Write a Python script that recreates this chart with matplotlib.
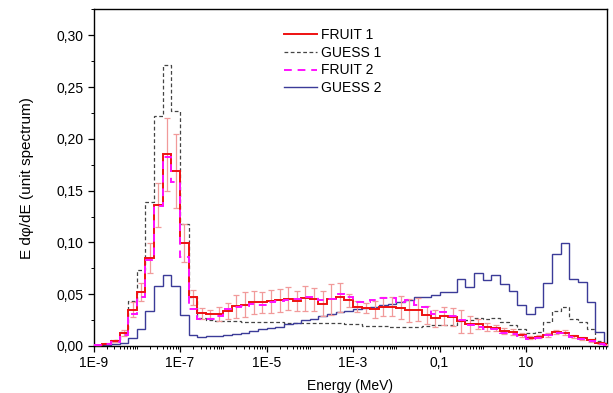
import numpy as np
import matplotlib
matplotlib.use("Agg")
import matplotlib.pyplot as plt
from matplotlib.ticker import FixedLocator, FixedFormatter, LogLocator, NullFormatter, MultipleLocator

plt.rcParams['font.family'] = ['Liberation Sans', 'DejaVu Sans']

# 60 bins, 5 per decade, 1E-9 .. 1E3 MeV
bin_edges = np.logspace(-9, 3, 61)

fruit1 = [0.001, 0.002, 0.005, 0.0125, 0.035, 0.052, 0.0845, 0.136, 0.185, 0.169,
          0.0995, 0.047, 0.0314, 0.031, 0.031, 0.034, 0.0385, 0.040, 0.042, 0.042,
          0.043, 0.044, 0.0455, 0.0435, 0.046, 0.045, 0.041, 0.045, 0.047, 0.044,
          0.038, 0.0365, 0.0355, 0.038, 0.038, 0.037, 0.0346, 0.035, 0.030, 0.0268,
          0.029, 0.028, 0.024, 0.021, 0.021, 0.018, 0.0175, 0.0145, 0.0135, 0.011,
          0.008, 0.009, 0.011, 0.0135, 0.013, 0.0095, 0.0075, 0.0055, 0.003, 0.0015]

fruit1_err = [0.0, 0.0005, 0.001, 0.003, 0.007, 0.009, 0.0145, 0.021, 0.035, 0.036,
              0.018, 0.007, 0.005, 0.004, 0.0065, 0.0075, 0.011, 0.012, 0.011, 0.010,
              0.011, 0.011, 0.011, 0.010, 0.012, 0.011, 0.012, 0.015, 0.014, 0.006,
              0.005, 0.005, 0.008, 0.009, 0.009, 0.011, 0.011, 0.011, 0.009, 0.008,
              0.009, 0.009, 0.011, 0.008, 0.005, 0.004, 0.003, 0.003, 0.0025, 0.002,
              0.0015, 0.0015, 0.002, 0.002, 0.002, 0.0015, 0.0015, 0.0015, 0.001, 0.0005]

guess1 = [0.0005, 0.002, 0.006, 0.0137, 0.0435, 0.073, 0.139, 0.222, 0.271, 0.227,
          0.118, 0.047, 0.027, 0.025, 0.0245, 0.024, 0.024, 0.0235, 0.0235, 0.023,
          0.023, 0.023, 0.0225, 0.0223, 0.0223, 0.022, 0.022, 0.022, 0.022, 0.0215,
          0.021, 0.019, 0.019, 0.019, 0.0185, 0.0185, 0.0185, 0.0185, 0.019, 0.020,
          0.020, 0.0205, 0.024, 0.025, 0.027, 0.0265, 0.0275, 0.023, 0.0205, 0.016,
          0.0125, 0.0135, 0.023, 0.034, 0.038, 0.0256, 0.023, 0.016, 0.005, 0.002]

fruit2 = [0.001, 0.002, 0.004, 0.0105, 0.031, 0.047, 0.083, 0.135, 0.1825, 0.158,
          0.0855, 0.036, 0.0256, 0.0265, 0.029, 0.0355, 0.038, 0.039, 0.041, 0.040,
          0.042, 0.043, 0.044, 0.0455, 0.047, 0.047, 0.044, 0.045, 0.050, 0.047,
          0.0425, 0.0425, 0.044, 0.046, 0.046, 0.0425, 0.044, 0.040, 0.038, 0.031,
          0.033, 0.029, 0.025, 0.020, 0.0185, 0.016, 0.016, 0.013, 0.012, 0.0095,
          0.0065, 0.008, 0.0105, 0.013, 0.0125, 0.0085, 0.0065, 0.0045, 0.002, 0.001]

guess2 = [0.0002, 0.0005, 0.0015, 0.003, 0.008, 0.016, 0.034, 0.058, 0.069, 0.058,
          0.030, 0.011, 0.009, 0.0095, 0.0101, 0.0108, 0.012, 0.013, 0.0147, 0.016,
          0.017, 0.0185, 0.021, 0.0223, 0.025, 0.0265, 0.029, 0.031, 0.0325, 0.034,
          0.0355, 0.0365, 0.038, 0.040, 0.041, 0.042, 0.0442, 0.047, 0.0475, 0.049,
          0.052, 0.052, 0.065, 0.0565, 0.070, 0.0635, 0.069, 0.060, 0.053, 0.040,
          0.031, 0.038, 0.061, 0.089, 0.099, 0.065, 0.062, 0.0426, 0.0136, 0.003]

x_tick_values = [1e-9, 1e-7, 1e-5, 1e-3, 1e-1, 1e1]
x_tick_labels = ["1E-9", "1E-7", "1E-5", "1E-3", "0,1", "10"]
y_tick_values = [0.0, 0.05, 0.10, 0.15, 0.20, 0.25, 0.30]
y_tick_labels = ["0,00", "0,05", "0,10", "0,15", "0,20", "0,25", "0,30"]

fig = plt.figure(figsize=(6.13, 3.93), dpi=100)
ax = fig.add_axes([0.1527, 0.1196, 0.8373, 0.8567])

centers = np.sqrt(bin_edges[:-1] * bin_edges[1:])

ax.stairs(guess1, bin_edges, baseline=None, color="#444444", lw=0.9,
          linestyle=(0, (3, 2)), label="GUESS 1", zorder=2)
ax.stairs(guess2, bin_edges, baseline=None, color="#3b3b98", lw=1.0,
          label="GUESS 2", zorder=2)
ax.errorbar(centers, fruit1, yerr=fruit1_err, fmt="none", ecolor="#f19a9a",
            elinewidth=0.9, capsize=2.3, capthick=0.9, zorder=3)
ax.stairs(fruit1, bin_edges, baseline=None, color="#ee1111", lw=1.4,
          label="FRUIT 1", zorder=4)
ax.stairs(fruit2, bin_edges, baseline=None, color="#ff11ff", lw=1.4,
          linestyle=(0, (4, 3)), label="FRUIT 2", zorder=5)

ax.set_xscale("log")
ax.set_xlim(1e-9, 10 ** 2.87)
ax.set_ylim(0, 0.325)

ax.xaxis.set_major_locator(FixedLocator(x_tick_values))
ax.xaxis.set_major_formatter(FixedFormatter(x_tick_labels))
ax.xaxis.set_minor_locator(LogLocator(base=10, subs=np.arange(1, 10), numticks=100))
ax.xaxis.set_minor_formatter(NullFormatter())
ax.yaxis.set_major_locator(FixedLocator(y_tick_values))
ax.yaxis.set_major_formatter(FixedFormatter(y_tick_labels))
ax.yaxis.set_minor_locator(MultipleLocator(0.025))

ax.tick_params(which="major", direction="out", length=4, width=0.9, labelsize=10,
               top=False, right=False)
ax.tick_params(which="minor", direction="out", length=2, width=0.7,
               top=False, right=False)
for sp in ax.spines.values():
    sp.set_linewidth(1.0)

ax.set_xlabel("Energy (MeV)", fontsize=10, labelpad=6)
ax.set_ylabel("E d\u03c6/dE (unit spectrum)", fontsize=11, labelpad=16)

handles, labels = ax.get_legend_handles_labels()
order = [labels.index(n) for n in ["FRUIT 1", "GUESS 1", "FRUIT 2", "GUESS 2"]]
leg = ax.legend([handles[i] for i in order], [labels[i] for i in order],
                loc="upper left", bbox_to_anchor=(0.36, 0.962), frameon=False,
                fontsize=10, handlelength=2.4, handletextpad=0.3, labelspacing=0.28,
                borderaxespad=0)

fig.savefig("out.png", dpi=100)
